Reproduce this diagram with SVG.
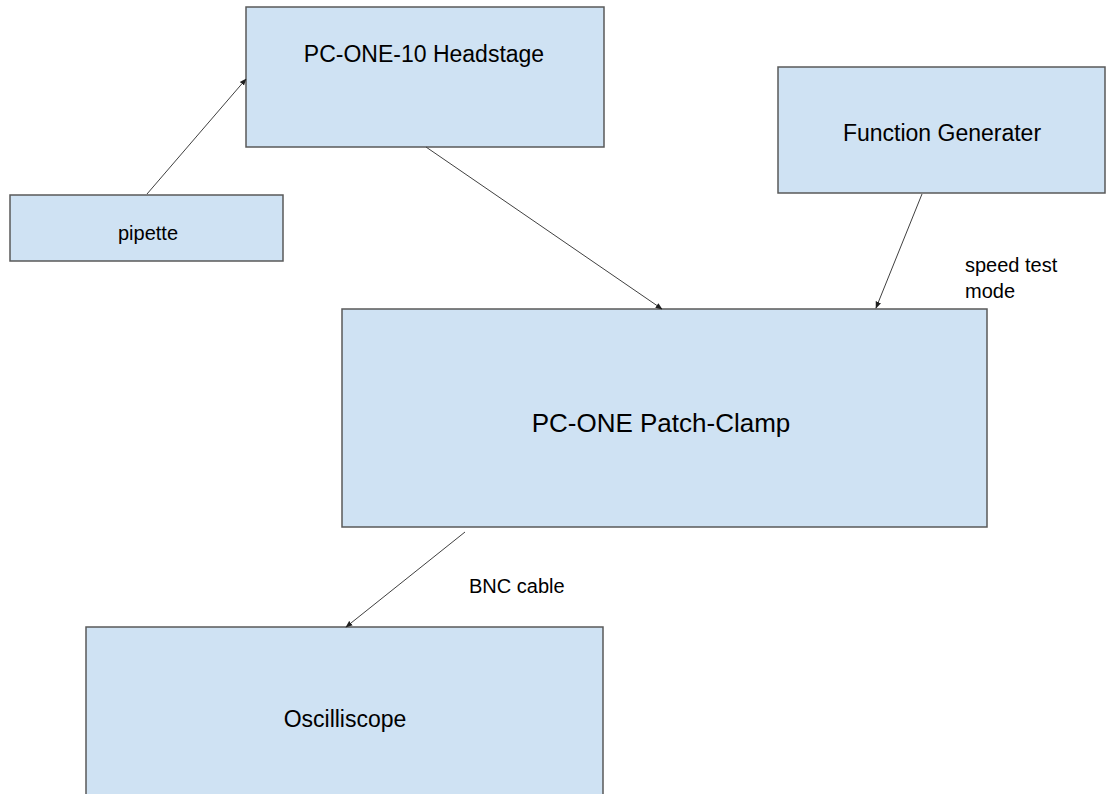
<svg xmlns="http://www.w3.org/2000/svg" width="1120" height="794" viewBox="0 0 1120 794">
<style>
.box{fill:#cfe2f3;stroke:#595959;stroke-width:1.5}
.t{font-family:"Liberation Sans",Arial,sans-serif;fill:#000;text-anchor:middle}
.lbl{font-family:"Liberation Sans",Arial,sans-serif;fill:#000;font-size:20px}
.c{stroke:#404040;stroke-width:1;fill:none;marker-end:url(#ah)}
</style>
<defs>
<marker id="ah" viewBox="0 0 10 10" refX="9" refY="5" markerWidth="7" markerHeight="7" markerUnits="userSpaceOnUse" orient="auto">
<path d="M0,1 L10,5 L0,9 z" fill="#202020"/>
</marker>
</defs>
<rect width="1120" height="794" fill="#fff"/>
<g id="headstage"><rect class="box" x="246" y="7" width="358" height="140"/><text class="t" x="424" y="62" font-size="23">PC-ONE-10 Headstage</text></g>
<g id="pipette"><rect class="box" x="10" y="195" width="273" height="66"/><text class="t" x="148" y="240" font-size="20">pipette</text></g>
<g id="funcgen"><rect class="box" x="778" y="67" width="327" height="126"/><text class="t" x="942" y="141" font-size="23">Function Generater</text></g>
<g id="patchclamp"><rect class="box" x="342" y="309" width="645" height="218"/><text class="t" x="661" y="432" font-size="26">PC-ONE Patch-Clamp</text></g>
<g id="oscilloscope"><rect class="box" x="86" y="627" width="517" height="190"/><text class="t" x="345" y="727" font-size="23">Oscilliscope</text></g>
<g id="connectors">
<line class="c" x1="147" y1="194" x2="246" y2="79"/>
<line class="c" x1="426" y1="147" x2="662" y2="309"/>
<line class="c" x1="922" y1="194" x2="876" y2="308"/>
<line class="c" x1="465" y1="532" x2="346" y2="627"/>
<text class="lbl" x="965" y="272">speed test</text>
<text class="lbl" x="965" y="298">mode</text>
<text class="lbl" x="469" y="593">BNC cable</text>
</g>
</svg>
